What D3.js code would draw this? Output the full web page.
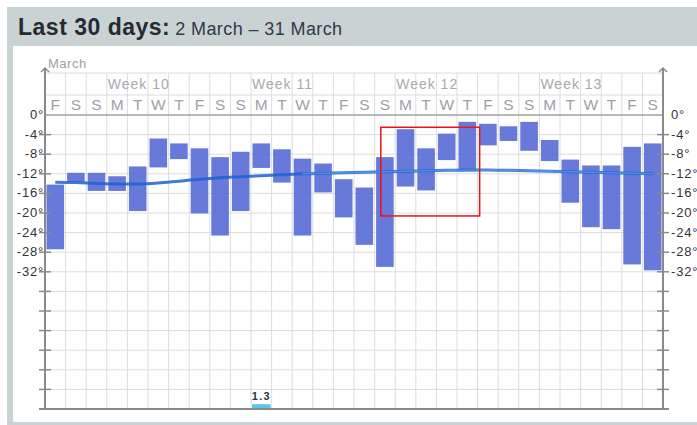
<!DOCTYPE html>
<html>
<head>
<meta charset="utf-8">
<script src="https://cdn.jsdelivr.net/npm/d3@7"></script>
<style>
  body { margin: 0; background: #fff; }
  svg { display: block; font-family: "Liberation Sans", Arial, sans-serif; }
</style>
</head>
<body>
<div id="chart"></div>
<script>
// --- data ---
var dayLetters = ["F","S","S","M","T","W","T","F","S","S","M","T","W","T","F","S","S","M","T","W","T","F","S","S","M","T","W","T","F","S"];
var tempMax = [-14.2,-11.8,-11.8,-12.5,-10.5,-4.8,-5.8,-6.8,-8.6,-7.5,-5.8,-7.0,-8.9,-9.9,-13.1,-14.8,-8.6,-2.9,-6.8,-3.8,-1.4,-1.8,-2.3,-1.4,-5.1,-9.1,-10.3,-10.3,-6.5,-5.8];
var tempMin = [-27.4,-13.7,-15.5,-15.5,-19.6,-10.7,-9.0,-20.1,-24.6,-19.6,-10.8,-13.8,-24.6,-15.8,-20.9,-26.5,-31.0,-14.6,-15.4,-9.2,-11.5,-6.2,-5.3,-7.3,-9.4,-17.9,-22.9,-23.3,-30.5,-31.7];
var tempAvg = [-13.7,-13.8,-14.0,-14.1,-14.1,-13.9,-13.5,-13.1,-12.8,-12.6,-12.4,-12.2,-12.0,-11.9,-11.8,-11.7,-11.6,-11.5,-11.4,-11.3,-11.2,-11.2,-11.3,-11.4,-11.5,-11.6,-11.7,-11.8,-11.9,-12.0];
var precip = [0,0,0,0,0,0,0,0,0,0,1.3,0,0,0,0,0,0,0,0,0,0,0,0,0,0,0,0,0,0,0];
var weeks = [{label: "Week 10", start: 3}, {label: "Week 11", start: 10}, {label: "Week 12", start: 17}, {label: "Week 13", start: 24}];
var tempTicks = d3.range(0, -61, -4);
var labelledTicks = [0,-4,-8,-12,-16,-20,-24,-28,-32];
var highlight = {from: 16.3, to: 21.1, top: -2.5, bottom: -20.6};

var W = 697, H = 425;
var left = 45, right = 663, topRow = 73, dayRow = 95, plotTop = 115, plotBottom = 409;

var svg = d3.select("#chart").append("svg")
    .attr("width", W)
    .attr("height", H);

// frame / header
svg.append("rect").attr("x", 7).attr("y", 7).attr("width", W - 7).attr("height", H - 7).attr("fill", "#c9d3d3");
svg.append("rect").attr("x", 13).attr("y", 46).attr("width", W - 13).attr("height", 376).attr("fill", "#fff");

var head = svg.append("text").attr("x", 18).attr("y", 35).attr("fill", "#252a33");
head.append("tspan").attr("font-size", 23).attr("font-weight", "bold").attr("letter-spacing", 0.5).text("Last 30 days:");
head.append("tspan").attr("font-size", 18).attr("dx", 5).attr("letter-spacing", 0.4).attr("fill", "#333a48").text("2 March \u2013 31 March");

var x = d3.scaleLinear().domain([0, 30]).range([left, right]);
var y = d3.scaleLinear().domain([0, -60]).range([plotTop, plotBottom]);
var yp = d3.scaleLinear().domain([0, 80]).range([plotBottom, plotTop]);
var colW = x(1) - x(0);

// grid
var grid = svg.append("g").attr("stroke", "#dcdcdc").attr("stroke-width", 1);
grid.selectAll(".v").data(d3.range(1, 30)).enter().append("line")
    .attr("x1", function(d){ return x(d); }).attr("x2", function(d){ return x(d); })
    .attr("y1", topRow).attr("y2", plotBottom);
grid.selectAll(".h").data(tempTicks.slice(1, -1)).enter().append("line")
    .attr("x1", left).attr("x2", right)
    .attr("y1", function(d){ return y(d); }).attr("y2", function(d){ return y(d); });
grid.append("line").attr("x1", left).attr("x2", right).attr("y1", topRow).attr("y2", topRow);
grid.append("line").attr("x1", left).attr("x2", right).attr("y1", dayRow).attr("y2", dayRow);
svg.append("line").attr("x1", left).attr("x2", right).attr("y1", plotTop).attr("y2", plotTop)
    .attr("stroke", "#a0a0a0").attr("stroke-width", 1.5);

// labels in header rows
svg.append("text").attr("x", 48).attr("y", 68).attr("font-size", 13).attr("letter-spacing", 0.5)
    .attr("fill", "#a0a0a8").text("March");
svg.selectAll(".wk").data(weeks).enter().append("text")
    .attr("x", function(d){ return x(d.start) + 1; }).attr("y", 89)
    .attr("font-size", 14).attr("letter-spacing", 1).attr("fill", "#a8a8b0")
    .text(function(d){ return d.label; });
svg.selectAll(".dl").data(dayLetters).enter().append("text")
    .attr("x", function(d, i){ return x(i + 0.5); }).attr("y", 110)
    .attr("text-anchor", "middle").attr("font-size", 15.5).attr("fill", "#a0a0a8")
    .text(function(d){ return d; });

// temperature bars
svg.selectAll(".bar").data(tempMax).enter().append("rect")
    .attr("x", function(d, i){ return x(i) + 1.5; })
    .attr("width", colW - 3)
    .attr("y", function(d){ return y(d); })
    .attr("height", function(d, i){ return y(tempMin[i]) - y(d); })
    .attr("fill", "#5b6fd6").attr("fill-opacity", 0.92);

// average line
var line = d3.line()
    .x(function(d, i){ return x(i + 0.5); })
    .y(function(d){ return y(d); })
    .curve(d3.curveMonotoneX);
svg.append("path").datum(tempAvg).attr("d", line)
    .attr("fill", "none").attr("stroke", "#1f62d0").attr("stroke-width", 3).attr("stroke-opacity", 0.85);
svg.append("path").datum(tempAvg.slice(12)).attr("d", d3.line()
        .x(function(d, i){ return x(i + 12.5); })
        .y(function(d){ return y(d); })
        .curve(d3.curveMonotoneX))
    .attr("fill", "none").attr("stroke", "#5a9ae6").attr("stroke-width", 1.5).attr("stroke-opacity", 0.8);

// precipitation
var pData = precip.map(function(v, i){ return {v: v, i: i}; }).filter(function(d){ return d.v > 0; });
svg.selectAll(".pr").data(pData).enter().append("rect")
    .attr("x", function(d){ return x(d.i) + 1; })
    .attr("width", colW - 2)
    .attr("y", function(d){ return yp(d.v); })
    .attr("height", function(d){ return plotBottom - yp(d.v); })
    .attr("fill", "#5bc6e6");
svg.selectAll(".prl").data(pData).enter().append("text")
    .attr("x", function(d){ return x(d.i + 0.5); })
    .attr("y", function(d){ return yp(d.v) - 4; })
    .attr("text-anchor", "middle").attr("font-size", 11).attr("letter-spacing", 1.2)
    .attr("fill", "#2c3448").attr("font-weight", "bold")
    .text(function(d){ return d.v; });

// axes
function axis(xPos, side) {
  var g = svg.append("g").attr("stroke", "#8a8a8a");
  g.append("line").attr("x1", xPos).attr("x2", xPos).attr("y1", 69).attr("y2", plotBottom + 1).attr("stroke-width", 2);
  g.append("path").attr("d", "M" + (xPos - 4) + ",72 L" + xPos + ",68 L" + (xPos + 4) + ",72")
      .attr("fill", "none").attr("stroke-width", 1.5);
  g.selectAll(".t").data(tempTicks.slice(1, -1)).enter().append("line")
      .attr("x1", xPos - 6).attr("x2", xPos + 6)
      .attr("y1", function(d){ return y(d); }).attr("y2", function(d){ return y(d); })
      .attr("stroke-width", 1.5);
  svg.selectAll(".lab" + side).data(labelledTicks).enter().append("text")
      .attr("x", side === "l" ? xPos - 1 : xPos + 8)
      .attr("y", function(d){ return y(d) + 4; })
      .attr("text-anchor", side === "l" ? "end" : "start")
      .attr("font-size", 13).attr("letter-spacing", 0.8).attr("fill", "#333")
      .text(function(d){ return d + "\u00b0"; });
}
axis(left, "l");
axis(right, "r");
svg.append("line").attr("x1", left - 6).attr("x2", right + 6).attr("y1", plotBottom).attr("y2", plotBottom)
    .attr("stroke", "#8a8a8a").attr("stroke-width", 2);

// highlight box
svg.append("rect")
    .attr("x", x(highlight.from)).attr("width", x(highlight.to) - x(highlight.from))
    .attr("y", y(highlight.top)).attr("height", y(highlight.bottom) - y(highlight.top))
    .attr("fill", "none").attr("stroke", "#e8141e").attr("stroke-width", 1.5);
</script>
</body>
</html>
